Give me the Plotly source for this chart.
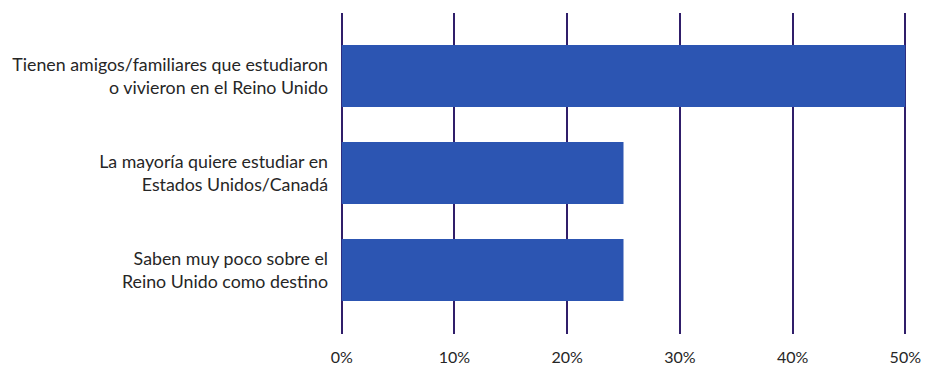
import plotly.graph_objects as go

# Survey reasons, share of respondents
categories = [
    "Tienen amigos/familiares que estudiaron<br>o vivieron en el Reino Unido",
    "La mayoría quiere estudiar en<br>Estados Unidos/Canadá",
    "Saben muy poco sobre el<br>Reino Unido como destino",
]
shares = [50, 25, 25]
tick_values = [0, 10, 20, 30, 40, 50]
tick_labels = ["0%", "10%", "20%", "30%", "40%", "50%"]

positions = list(range(len(categories)))

fig = go.Figure(
    go.Bar(
        x=shares,
        y=positions,
        orientation="h",
        width=0.64,
        marker=dict(color="#2c55b2", line=dict(width=0)),
        hoverinfo="skip",
    )
)

fig.update_layout(
    width=925,
    height=366,
    margin=dict(l=340, r=18, t=13, b=32),
    paper_bgcolor="white",
    plot_bgcolor="white",
    showlegend=False,
    font=dict(family="Lato", color="#262626"),
)

fig.update_xaxes(
    range=[-0.15, 50.15],
    tickvals=tick_values,
    ticktext=tick_labels,
    showgrid=True,
    gridcolor="#301e6a",
    gridwidth=2.2,
    zeroline=False,
    showline=False,
    ticks="",
    automargin=False,
    ticklabelstandoff=12,
    tickfont=dict(size=16, color="#262626"),
)

fig.update_yaxes(
    range=[2.66, -0.65],
    tickvals=positions,
    ticktext=categories,
    showgrid=False,
    zeroline=False,
    showline=False,
    ticks="",
    automargin=False,
    ticklabelstandoff=11,
    tickfont=dict(size=17.8, color="#262626"),
)

fig.write_html("out.html")
